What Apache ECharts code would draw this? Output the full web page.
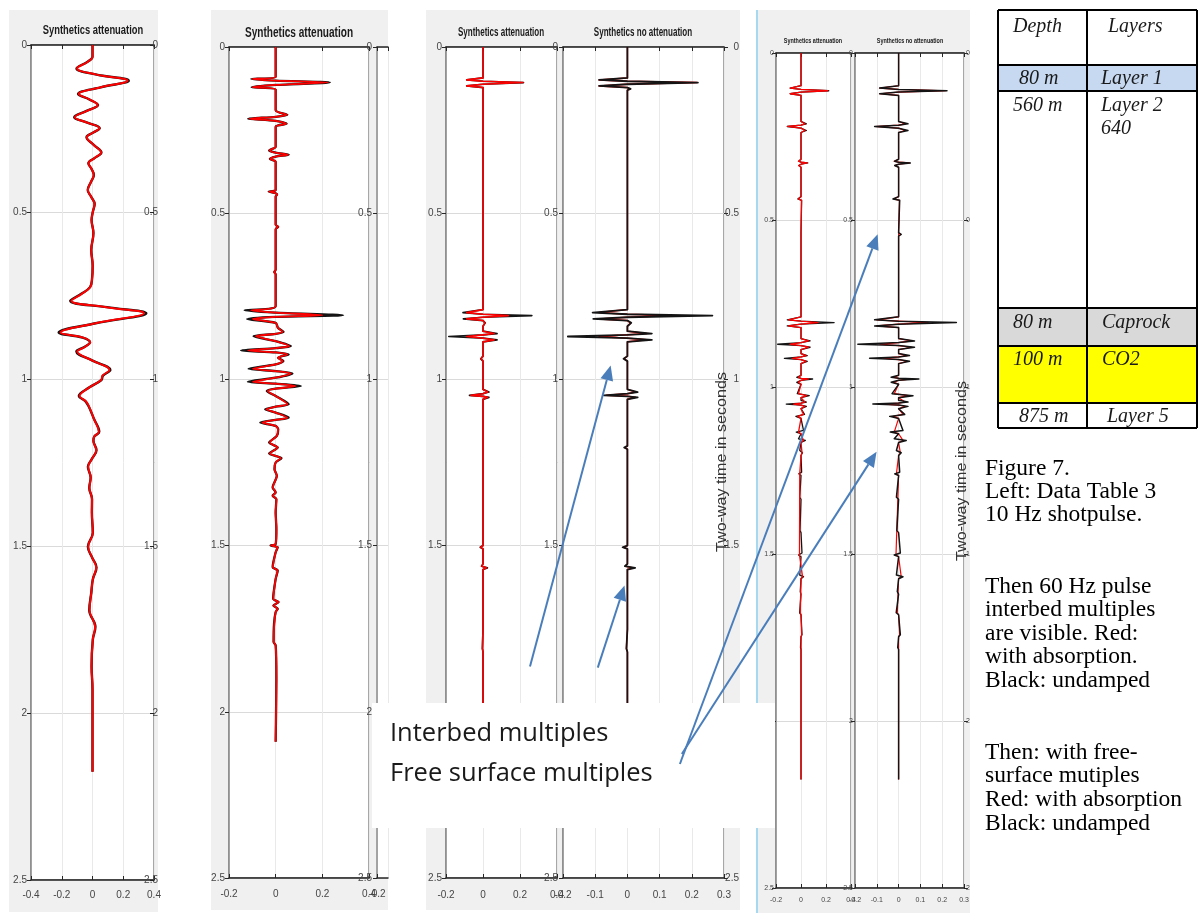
<!DOCTYPE html>
<html>
<head>
<meta charset="utf-8">
<script src="https://cdn.jsdelivr.net/npm/echarts@6/dist/echarts.min.js"></script>
<style>
  html, body { margin: 0; padding: 0; background: #ffffff; }
  #chart { width: 1198px; height: 913px; }
</style>
</head>
<body>
<div id="chart"></div>
<script>
// ---------------------------------------------------------------
// Synthetic seismograms, each sample is [two-way time (s), amplitude]
// ---------------------------------------------------------------

// 10 Hz shot pulse, with absorption (red) and undamped (black)
const pulse10Red = [
  [0,0],[0.035,0],[0.05,-0.03],[0.07,-0.10],[0.088,0.02],[0.107,0.228],[0.127,0.05],[0.147,-0.09],
  [0.163,-0.02],[0.18,0.034],[0.198,-0.04],[0.216,-0.114],[0.233,-0.03],[0.249,0.045],[0.262,0.005],
  [0.276,-0.037],[0.30,0.01],[0.322,0.056],[0.338,0.015],[0.354,-0.026],[0.372,-0.005],[0.389,0.008],
  [0.41,-0.01],[0.434,-0.03],[0.455,-0.008],[0.476,0.013],[0.50,0.002],[0.524,-0.006],[0.563,0.006],
  [0.614,-0.008],[0.66,0.001],[0.70,-0.003],[0.725,-0.015],[0.745,-0.07],[0.766,-0.137],[0.785,0.09],
  [0.803,0.335],[0.833,0.02],[0.861,-0.208],[0.876,-0.06],[0.89,-0.015],[0.904,-0.05],[0.918,-0.099],
  [0.945,0.0],[0.973,0.11],[0.99,0.065],[1.003,0.056],[1.025,-0.02],[1.051,-0.084],[1.066,-0.045],
  [1.081,-0.024],[1.12,0.01],[1.158,0.041],[1.172,0.012],[1.185,0.006],[1.213,0.024],[1.24,-0.005],
  [1.263,-0.028],[1.295,-0.012],[1.326,-0.02],[1.36,-0.003],[1.40,-0.004],[1.46,0.002],[1.502,-0.028],
  [1.535,-0.002],[1.564,0.024],[1.60,0.002],[1.64,-0.008],[1.692,-0.019],[1.742,0.017],[1.78,0.002],
  [1.86,-0.006],[1.93,0.0],[2.176,0.0]
];
const pulse10Black = [
  [0,0],[0.035,0],[0.05,-0.032],[0.07,-0.104],[0.088,0.02],[0.107,0.236],[0.127,0.052],[0.147,-0.094],
  [0.163,-0.02],[0.18,0.036],[0.198,-0.042],[0.216,-0.119],[0.233,-0.03],[0.249,0.047],[0.262,0.005],
  [0.276,-0.039],[0.30,0.01],[0.322,0.058],[0.338,0.015],[0.354,-0.027],[0.372,-0.005],[0.389,0.009],
  [0.41,-0.01],[0.434,-0.031],[0.455,-0.008],[0.476,0.014],[0.50,0.002],[0.524,-0.006],[0.563,0.006],
  [0.614,-0.008],[0.66,0.001],[0.70,-0.003],[0.725,-0.016],[0.745,-0.073],[0.766,-0.145],[0.785,0.095],
  [0.803,0.35],[0.833,0.02],[0.861,-0.22],[0.876,-0.064],[0.89,-0.016],[0.904,-0.053],[0.918,-0.105],
  [0.945,0.0],[0.973,0.116],[0.99,0.068],[1.003,0.058],[1.025,-0.02],[1.051,-0.089],[1.066,-0.047],
  [1.081,-0.026],[1.12,0.01],[1.158,0.044],[1.172,0.012],[1.185,0.006],[1.213,0.026],[1.24,-0.005],
  [1.263,-0.03],[1.295,-0.012],[1.326,-0.021],[1.36,-0.003],[1.40,-0.004],[1.46,0.002],[1.502,-0.03],
  [1.535,-0.002],[1.564,0.026],[1.60,0.002],[1.64,-0.008],[1.692,-0.021],[1.742,0.019],[1.78,0.002],
  [1.86,-0.006],[1.93,0.0],[2.176,0.0]
];

// 60 Hz pulse, interbed multiples
const interbedRed = [
  [0,0],[0.09,0],[0.096,-0.10],[0.101,0],[0.107,0.225],[0.114,0],[0.121,-0.099],[0.128,0],[0.19,0],
  [0.204,0.048],[0.21,0],[0.216,-0.113],[0.222,0],[0.231,0.045],[0.24,0],[0.30,0],[0.311,-0.026],
  [0.318,0],[0.324,0.053],[0.33,0],[0.337,-0.023],[0.345,0],[0.43,0],[0.435,-0.028],[0.44,0],
  [0.444,0.006],[0.45,0],[0.535,0],[0.541,0.01],[0.548,0],[0.67,0],[0.677,-0.006],[0.684,0],[0.78,0],
  [0.792,-0.105],[0.799,0],[0.807,0.20],[0.812,0],[0.818,-0.098],[0.83,0],[0.845,0.01],[0.857,0.03],
  [0.863,0],[0.87,-0.085],[0.885,0],[0.9,0.058],[0.906,0],[0.913,-0.119],[0.919,0],[0.925,0.05],
  [0.935,0.01],[0.945,0.03],[0.955,0],[0.968,-0.098],[0.975,0],[0.982,0.065],[0.995,0],[1.007,-0.098],
  [1.013,0],[1.02,0.086],[1.028,0],[1.035,-0.034],[1.05,0],[1.075,0.05],[1.082,0],[1.09,-0.04],
  [1.10,0],[1.115,0.05],[1.122,0],[1.13,-0.058],[1.14,0],[1.15,0.01],[1.17,0.005],[1.19,-0.025],
  [1.205,0.008],[1.223,-0.025],[1.237,0.022],[1.25,0],[1.27,-0.005],[1.29,0.005],[1.325,-0.012],
  [1.34,0],[1.35,-0.012],[1.36,0.003],[1.40,0],[1.45,0.003],[1.495,0],[1.50,-0.02],[1.505,0.008],
  [1.52,0],[1.565,-0.012],[1.575,0.008],[1.60,0],[1.66,-0.01],[1.67,0.012],[1.68,-0.009],[1.69,0.008],
  [1.70,0],[1.735,-0.006],[1.79,-0.008],[1.80,0],[1.90,0.003],[2.09,0]
];
const interbedBlack = [
  [0,0],[0.09,0],[0.096,-0.104],[0.101,0],[0.107,0.232],[0.114,0],[0.121,-0.103],[0.128,0],[0.19,0],
  [0.204,0.05],[0.21,0],[0.216,-0.118],[0.222,0],[0.231,0.047],[0.24,0],[0.30,0],[0.311,-0.028],
  [0.318,0],[0.324,0.056],[0.33,0],[0.337,-0.025],[0.345,0],[0.43,0],[0.435,-0.03],[0.44,0],
  [0.444,0.006],[0.45,0],[0.535,0],[0.541,0.011],[0.548,0],[0.67,0],[0.677,-0.006],[0.684,0],[0.78,0],
  [0.792,-0.133],[0.799,0],[0.807,0.289],[0.812,0],[0.818,-0.122],[0.83,0],[0.845,0.01],[0.857,0.034],
  [0.863,0],[0.87,-0.095],[0.885,0],[0.9,0.065],[0.906,0],[0.913,-0.148],[0.919,0],[0.925,0.056],
  [0.935,0.01],[0.945,0.033],[0.955,0],[0.968,-0.116],[0.975,0],[0.982,0.072],[0.995,0],[1.007,-0.119],
  [1.013,0],[1.02,0.108],[1.028,0],[1.035,-0.038],[1.05,0],[1.075,0.056],[1.082,0],[1.09,-0.045],
  [1.10,0],[1.115,0.056],[1.122,0],[1.13,-0.066],[1.14,0],[1.15,0.011],[1.17,0.005],[1.19,-0.028],
  [1.205,0.009],[1.223,-0.028],[1.237,0.025],[1.25,0],[1.27,-0.005],[1.29,0.005],[1.325,-0.013],
  [1.34,0],[1.35,-0.013],[1.36,0.003],[1.40,0],[1.45,0.003],[1.495,0],[1.50,-0.022],[1.505,0.009],
  [1.52,0],[1.565,-0.013],[1.575,0.009],[1.60,0],[1.66,-0.011],[1.67,0.013],[1.68,-0.01],[1.69,0.009],
  [1.70,0],[1.735,-0.007],[1.79,-0.009],[1.80,0],[1.90,0.003],[2.09,0]
];

// 60 Hz pulse, primaries with few multiples
const pulse60Red = [
  [0,0],[0.093,0],[0.099,-0.088],[0.103,0],[0.107,0.216],[0.112,0],[0.117,-0.088],[0.122,0],[0.126,0.008],
  [0.13,0],[0.79,0],[0.799,-0.088],[0.804,0],[0.808,0.137],[0.813,0],[0.818,-0.088],[0.823,0],[0.83,0.01],
  [0.84,0],[0.855,0],[0.862,0.06],[0.866,0],[0.871,-0.088],[0.876,0],[0.881,0.06],[0.887,0],[0.93,0],
  [0.938,-0.01],[0.945,0],[1.03,0],[1.038,0.025],[1.043,0],[1.048,-0.065],[1.051,0],[1.054,0.025],
  [1.06,0],[1.2,0],[1.205,-0.008],[1.21,0],[1.5,0],[1.505,-0.012],[1.51,0],[1.555,0],[1.562,-0.006],
  [1.567,0.018],[1.572,0],[1.65,0],[1.655,-0.003],[1.66,0],[1.74,0],[1.746,0.003],[1.752,0],[1.81,-0.003],
  [1.82,0],[2.1,0]
];
const pulse60Black = [
  [0,0],[0.093,0],[0.099,-0.088],[0.103,0],[0.107,0.219],[0.112,0],[0.117,-0.088],[0.122,0],[0.126,0.01],
  [0.13,0],[0.79,0],[0.799,-0.108],[0.804,0],[0.808,0.264],[0.813,0],[0.818,-0.106],[0.823,0],[0.83,0.012],
  [0.84,0],[0.855,0],[0.862,0.076],[0.866,0],[0.871,-0.185],[0.876,0],[0.881,0.076],[0.887,0],[0.93,0],
  [0.938,-0.012],[0.945,0],[0.99,0],[0.995,0.003],[1.0,0],[1.03,0],[1.038,0.032],[1.043,0],[1.048,-0.073],
  [1.051,0],[1.054,0.032],[1.06,0],[1.2,0],[1.205,-0.01],[1.21,0],[1.5,0],[1.505,-0.015],[1.51,0],
  [1.555,0],[1.562,-0.008],[1.567,0.024],[1.572,0],[1.65,0],[1.655,-0.003],[1.66,0],[1.74,0],
  [1.746,0.003],[1.752,0],[1.81,-0.003],[1.82,0],[2.1,0]
];

// 60 Hz pulse with free-surface multiples
const freeSurfRed = [
  [0,0],[0.098,0],[0.105,-0.086],[0.109,0],[0.113,0.214],[0.117,0],[0.122,-0.086],[0.127,0],[0.205,0],
  [0.212,0.031],[0.216,0],[0.22,-0.107],[0.225,0],[0.232,0.031],[0.238,0],[0.318,0],[0.324,-0.021],
  [0.327,0],[0.329,0.05],[0.333,0],[0.337,-0.018],[0.342,0],[0.43,0],[0.437,-0.02],[0.441,0.004],
  [0.446,0],[0.538,0],[0.543,0.008],[0.548,0],[0.79,0],[0.799,-0.1],[0.803,0],[0.807,0.136],[0.812,0],
  [0.817,-0.1],[0.822,0],[0.855,0],[0.862,0.06],[0.867,0],[0.872,-0.086],[0.876,0],[0.881,0.06],
  [0.888,0],[0.9,0],[0.906,0.04],[0.91,0],[0.914,-0.07],[0.918,0],[0.923,0.04],[0.93,0],[0.965,0],
  [0.971,-0.02],[0.974,0],[0.976,0.06],[0.98,0],[0.986,-0.02],[0.992,0],[1.02,-0.02],[1.026,0.045],
  [1.032,0],[1.045,0.03],[1.048,0],[1.051,-0.06],[1.054,0],[1.058,0.03],[1.065,0],[1.082,0.02],
  [1.088,-0.025],[1.094,0],[1.135,-0.02],[1.14,0],[1.16,0.02],[1.166,0],[1.197,0.008],[1.205,0],
  [1.26,-0.01],[1.265,0],[1.503,-0.012],[1.508,0],[1.568,0.012],[1.574,0],[1.676,-0.006],[1.682,0],
  [1.742,0.005],[1.748,0],[2.175,0]
];
const freeSurfBlack = [
  [0,0],[0.098,0],[0.105,-0.087],[0.109,0],[0.113,0.222],[0.117,0],[0.122,-0.087],[0.127,0],[0.205,0],
  [0.212,0.043],[0.216,0],[0.22,-0.11],[0.225,0],[0.232,0.043],[0.238,0],[0.318,0],[0.324,-0.018],
  [0.327,0],[0.329,0.054],[0.333,0],[0.337,-0.018],[0.342,0],[0.43,0],[0.437,-0.026],[0.441,0.005],
  [0.446,0],[0.538,0],[0.543,0.012],[0.548,0],[0.645,0],[0.65,-0.004],[0.655,0],[0.79,0],[0.799,-0.11],
  [0.803,0],[0.807,0.265],[0.812,0],[0.817,-0.11],[0.822,0],[0.855,0],[0.862,0.073],[0.867,0],
  [0.872,-0.187],[0.876,0],[0.881,0.073],[0.888,0],[0.9,0],[0.906,0.05],[0.91,0],[0.914,-0.133],
  [0.918,0],[0.923,0.05],[0.93,0],[0.965,0],[0.971,-0.034],[0.974,0],[0.976,0.093],[0.98,0],
  [0.986,-0.034],[0.992,0],[1.02,-0.03],[1.026,0.066],[1.032,0],[1.04,0],[1.045,0.043],[1.048,0],
  [1.051,-0.118],[1.054,0],[1.058,0.043],[1.065,0],[1.082,0.028],[1.088,-0.041],[1.094,0],[1.13,0.02],
  [1.135,-0.038],[1.14,0],[1.155,-0.02],[1.16,0.035],[1.166,0],[1.19,-0.01],[1.197,0.012],[1.205,0],
  [1.255,0.005],[1.26,-0.018],[1.265,0],[1.33,-0.01],[1.336,0],[1.43,-0.008],[1.436,0],[1.497,0.008],
  [1.503,-0.02],[1.508,0],[1.563,-0.01],[1.568,0.02],[1.574,0],[1.613,-0.006],[1.62,0],[1.676,-0.011],
  [1.682,0],[1.742,0.008],[1.748,0],[1.78,-0.004],[1.786,0],[2.175,0]
];

// Time axis ticks (seconds) and panel titles
const timeRange = [0, 2.5];
const timeStep = 0.5;
const titleAtt = 'Synthetics attenuation';
const titleNoAtt = 'Synthetics no attenuation';
const timeAxisName = 'Two-way time in seconds';

// Layer table
const tableHeader = ['Depth', 'Layers'];
const tableDepths = ['80 m', '560 m', '80 m', '100 m', '875 m'];
const tableLayers = ['Layer 1', 'Layer 2\n640', 'Caprock', 'CO2', 'Layer 5'];

// Caption and call-out texts
const captionLines = [
  'Figure 7.', 'Left: Data Table 3', '10 Hz shotpulse.',
  'Then 60 Hz pulse', 'interbed multiples', 'are visible. Red:', 'with absorption.', 'Black: undamped',
  'Then: with free-', 'surface mutiples', 'Red: with absorption', 'Black: undamped'
];
const calloutLines = ['Interbed multiples', 'Free surface multiples'];

// ---------------------------------------------------------------
// Layout & styling
// ---------------------------------------------------------------
const SANS = '"Liberation Sans", Arial, sans-serif';
const SERIF = '"Liberation Serif", "Times New Roman", serif';
const TICK_TXT = '#454545';
const RED = '#ff0000';
const BLACK = '#141414';

const plots = [
  { left: 31,  top: 45, width: 123, height: 835, min: -0.4, max: 0.4, step: 0.2, fs: 10, ym: 4, xm: 10,
    right: { align: 'right', margin: 4, inside: true },
    traces: [ { data: pulse10Black, color: BLACK, width: 2.4, smooth: 0.4 },
              { data: pulse10Red, color: RED, width: 2, smooth: 0.4 } ] },
  { left: 229, top: 47, width: 140, height: 831, min: -0.2, max: 0.4, step: 0.2, fs: 10, ym: 4, xm: 11,
    traces: [ { data: interbedBlack, color: BLACK, width: 2.3, smooth: 0.25 },
              { data: interbedRed, color: RED, width: 1.8, smooth: 0.25 } ] },
  { left: 377, top: 47, width: 11, height: 831, min: -0.2, max: -0.13, step: 0.1, fs: 10, ym: 5, xm: 11,
    stub: true, traces: [] },
  { left: 446, top: 47, width: 111, height: 831, min: -0.2, max: 0.4, step: 0.2, fs: 10, ym: 4, xm: 12,
    traces: [ { data: pulse60Black, color: BLACK, width: 1.7, smooth: 0 },
              { data: pulse60Red, color: RED, width: 1.6, smooth: 0 } ] },
  { left: 563, top: 47, width: 161, height: 831, min: -0.2, max: 0.3, step: 0.1, fs: 10, ym: 5, xm: 12,
    right: { align: 'right', margin: 15, inside: false },
    traces: [ { data: pulse60Red, color: RED, width: 1.5, smooth: 0 },
              { data: pulse60Black, color: BLACK, width: 1.8, smooth: 0 } ] },
  { left: 776, top: 53, width: 75, height: 835, min: -0.2, max: 0.4, step: 0.2, fs: 7, ym: 2, xm: 9,
    traces: [ { data: freeSurfBlack, color: BLACK, width: 1.3, smooth: 0 },
              { data: freeSurfRed, color: RED, width: 1.3, smooth: 0 } ] },
  { left: 855, top: 53, width: 109, height: 835, min: -0.2, max: 0.3, step: 0.1, fs: 7, ym: 2, xm: 9,
    right: { align: 'left', margin: 2, inside: false },
    traces: [ { data: freeSurfRed, color: RED, width: 1.2, smooth: 0 },
              { data: freeSurfBlack, color: BLACK, width: 1.5, smooth: 0 } ] }
];

const grids = [], xAxes = [], yAxes = [], series = [];
const leftY = [];
plots.forEach((p, i) => {
  const lbl = { fontFamily: SANS, fontSize: p.fs, color: TICK_TXT };
  grids.push({
    left: p.left, top: p.top, width: p.width, height: p.height,
    show: true, backgroundColor: '#ffffff',
    borderColor: '#8a8a8a', borderWidth: p.stub ? 0 : 1.5
  });
  xAxes.push({
    gridIndex: i, type: 'value', position: 'bottom', min: p.min, max: p.max, interval: p.step,
    axisLine: { show: true, onZero: false, lineStyle: { color: '#262626', width: 1.5 } },
    axisTick: { show: true, inside: true, length: 4, lineStyle: { color: '#262626' } },
    axisLabel: Object.assign({ margin: p.xm, showMaxLabel: !p.stub, showMinLabel: true }, lbl),
    splitLine: { show: true, lineStyle: { color: '#e9e9e9', width: 1 } }
  });
  xAxes.push({
    gridIndex: i, type: 'value', position: 'top', min: p.min, max: p.max, interval: p.step,
    axisLine: { show: true, onZero: false, lineStyle: { color: '#262626', width: 1.5 } },
    axisTick: { show: true, inside: true, length: 4, lineStyle: { color: '#262626' } },
    axisLabel: { show: false }, splitLine: { show: false }
  });
  leftY.push(yAxes.length);
  yAxes.push({
    gridIndex: i, type: 'value', position: 'left', inverse: true,
    min: timeRange[0], max: timeRange[1], interval: timeStep,
    axisLine: { show: true, onZero: false, lineStyle: { color: '#8a8a8a', width: 1.5 } },
    axisTick: { show: true, inside: false, length: 4, lineStyle: { color: '#262626' } },
    axisLabel: Object.assign({ margin: p.ym }, lbl),
    splitLine: { show: true, lineStyle: { color: '#dadada', width: 1 } }
  });
  if (p.right) {
    yAxes.push({
      gridIndex: i, type: 'value', position: 'right', inverse: true,
      min: timeRange[0], max: timeRange[1], interval: timeStep,
      axisLine: { show: false, onZero: false },
      axisTick: { show: true, inside: p.right.inside, length: 4, lineStyle: { color: '#262626' } },
      axisLabel: Object.assign({ margin: p.right.margin, align: p.right.align }, lbl),
      splitLine: { show: false }
    });
  }
  p.traces.forEach((tr, k) => {
    series.push({
      type: 'line', xAxisIndex: 2 * i, yAxisIndex: leftY[i],
      data: tr.data.map(([t, a]) => [a, t]),
      symbol: 'none', showSymbol: false, smooth: tr.smooth, clip: true,
      lineStyle: { color: tr.color, width: tr.width, join: 'round' },
      z: 3 + k, silent: true
    });
  });
});

const chart = echarts.init(document.getElementById('chart'), null, { renderer: 'canvas' });
chart.setOption({
  animation: false,
  backgroundColor: '#ffffff',
  grid: grids, xAxis: xAxes, yAxis: yAxes, series: series
});

// ---------------------------------------------------------------
// Decoration: panel backgrounds, titles, layer table, caption, call-outs
// ---------------------------------------------------------------
function txt(text, x, y, font, opts) {
  return Object.assign({
    type: 'text', z: 20,
    style: { text: text, x: x, y: y, font: font, fill: '#1a1a1a',
             align: 'center', textAlign: 'center', verticalAlign: 'middle', textVerticalAlign: 'middle' }
  }, opts || {});
}
function styled(el, style) { Object.assign(el.style, style); return el; }
// text placed by its element transform, so it can be squeezed or rotated
function placed(text, cx, cy, font, sx, rot) {
  const el = txt(text, 0, 0, font);
  el.x = cx; el.y = cy; el.scaleX = sx; el.rotation = rot || 0;
  return el;
}

const graphics = [];
// grey figure backgrounds
[[9, 10, 149, 902], [211, 10, 177, 900], [426, 10, 314, 900], [757, 10, 213, 903]].forEach(r => {
  graphics.push({ type: 'rect', z: -5, silent: true,
    shape: { x: r[0], y: r[1], width: r[2], height: r[3] }, style: { fill: '#f0f0f0' } });
});
graphics.push({ type: 'line', z: 30, shape: { x1: 757, y1: 10, x2: 757, y2: 913 },
  style: { stroke: '#a6d8f0', lineWidth: 2 } });
// label overflow at the cut edge of the last panel
graphics.push({ type: 'rect', z: 25, shape: { x: 970, y: 0, width: 13, height: 913 }, style: { fill: '#ffffff' } });

// titles (condensed bold)
graphics.push(placed(titleAtt, 93, 30, 'bold 13px ' + SANS, 0.72));
graphics.push(placed(titleAtt, 299, 33, 'bold 14px ' + SANS, 0.72));
graphics.push(placed(titleAtt, 501, 33, 'bold 12px ' + SANS, 0.67));
graphics.push(placed(titleNoAtt, 643, 33, 'bold 12px ' + SANS, 0.67));
graphics.push(placed(titleAtt, 813, 41, 'bold 8px ' + SANS, 0.68));
graphics.push(placed(titleNoAtt, 910, 41, 'bold 8px ' + SANS, 0.68));

// vertical time-axis names
[[722, 462], [962, 471]].forEach(c => {
  const el = placed(timeAxisName, c[0], c[1], '14px ' + SANS, 1.15, Math.PI / 2);
  el.style.fill = '#333333';
  graphics.push(el);
});

// layer table
const tbl = { x0: 998, x1: 1087, x2: 1197, rows: [10, 65, 91, 308, 346, 403, 428] };
const rowFill = ['#ffffff', '#c6d9f1', '#ffffff', '#d9d9d9', '#ffff00', '#ffffff'];
rowFill.forEach((f, r) => {
  graphics.push({ type: 'rect', z: 20, shape: { x: tbl.x0, y: tbl.rows[r], width: tbl.x2 - tbl.x0, height: tbl.rows[r + 1] - tbl.rows[r] },
    style: { fill: f } });
});
tbl.rows.forEach(y => graphics.push({ type: 'line', z: 22, shape: { x1: tbl.x0, y1: y, x2: tbl.x2, y2: y },
  style: { stroke: '#000', lineWidth: 2 } }));
[tbl.x0, tbl.x1, tbl.x2].forEach(x => graphics.push({ type: 'line', z: 22,
  shape: { x1: x, y1: tbl.rows[0], x2: x, y2: tbl.rows[tbl.rows.length - 1] }, style: { stroke: '#000', lineWidth: 2 } }));
const TFONT = 'italic 20px ' + SERIF;
const leftTxt = (t, x, y) => styled(txt(t, x, y, TFONT, { z: 23 }), { align: 'left', textAlign: 'left', verticalAlign: 'top', textVerticalAlign: 'top', lineHeight: 23 });
graphics.push(leftTxt(tableHeader[0], 1013, 15));
graphics.push(leftTxt(tableHeader[1], 1108, 15));
const cellTop = [67, 94, 311, 348, 405];
const depthX = [1019, 1013, 1013, 1013, 1019];
const layerX = [1101, 1101, 1102, 1102, 1107];
tableDepths.forEach((d, r) => graphics.push(leftTxt(d, depthX[r], cellTop[r])));
tableLayers.forEach((d, r) => graphics.push(leftTxt(d, layerX[r], cellTop[r])));

// caption
const captionY = [469, 492, 515, 587, 610, 634, 657, 681, 753, 776, 800, 824];
captionLines.forEach((l, k) => {
  graphics.push(styled(txt(l, 985, captionY[k], '23.5px ' + SERIF), { align: 'left', textAlign: 'left', fill: '#000' }));
});

// call-out box
graphics.push({ type: 'rect', z: 40, shape: { x: 372, y: 703, width: 403, height: 125 }, style: { fill: '#ffffff' } });
calloutLines.forEach((l, k) => {
  graphics.push(styled(txt(l, 390, 734 + 40 * k, '25.5px "Open Sans", Lato, sans-serif', { z: 41 }),
    { align: 'left', textAlign: 'left', fill: '#1a1a1a' }));
});

// arrows from the call-outs to the multiples (data coordinates of each panel)
const arrows = [
  { from: [3, 0.254, 1.864], to: [4, -0.052, 0.958] },
  { from: [4, -0.092, 1.867], to: [4, -0.009, 1.62] },
  { from: [4, 0.163, 2.157], to: [6, -0.096, 0.543] },
  { from: [4, 0.169, 2.127], to: [6, -0.101, 1.194] }
];
const px = (g, a, t) => chart.convertToPixel({ xAxisIndex: 2 * g, yAxisIndex: leftY[g] }, [a, t]);
arrows.forEach(ar => {
  const p0 = px(ar.from[0], ar.from[1], ar.from[2]);
  const p1 = px(ar.to[0], ar.to[1], ar.to[2]);
  const dx = p1[0] - p0[0], dy = p1[1] - p0[1], L = Math.hypot(dx, dy);
  const ux = dx / L, uy = dy / L, head = 15, half = 6.5;
  const bx = p1[0] - ux * head, by = p1[1] - uy * head;
  graphics.push({ type: 'line', z: 50, shape: { x1: p0[0], y1: p0[1], x2: bx, y2: by },
    style: { stroke: '#4a7ebb', lineWidth: 2 } });
  graphics.push({ type: 'polygon', z: 50,
    shape: { points: [[p1[0], p1[1]], [bx - uy * half, by + ux * half], [bx + uy * half, by - ux * half]] },
    style: { fill: '#4a7ebb' } });
});

chart.setOption({ graphic: { elements: graphics } });
</script>
</body>
</html>
